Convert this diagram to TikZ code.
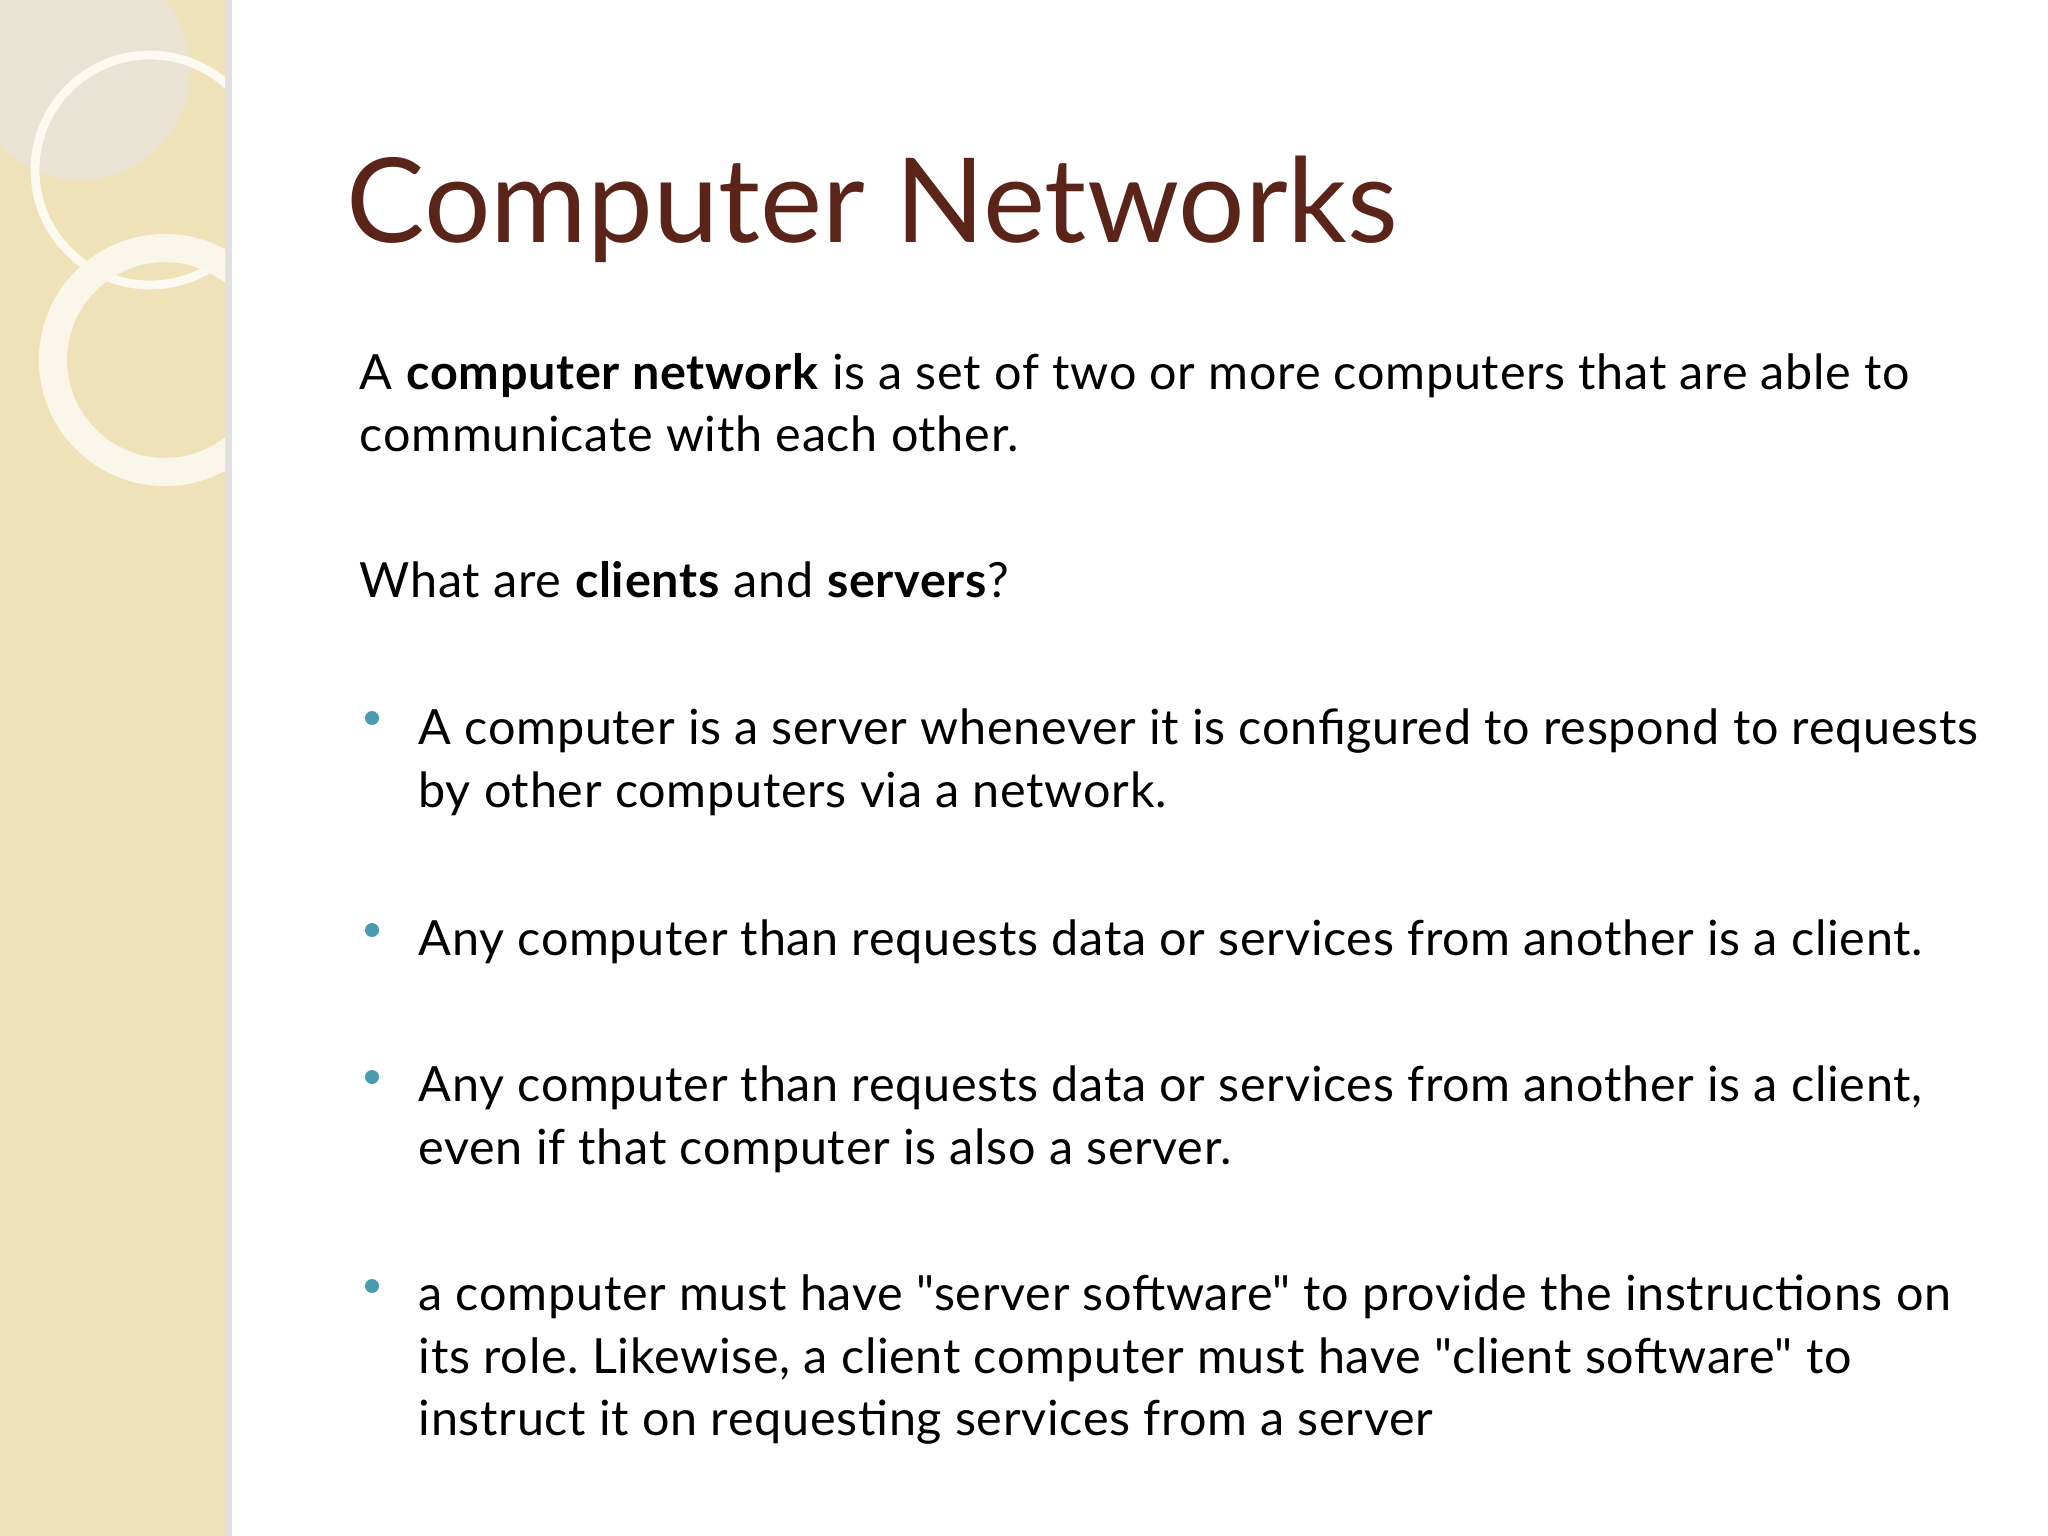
\documentclass[tikz,border=0pt]{standalone}
\usepackage{fontspec}
\setmainfont{Lato}[LetterSpace=1.5]
\definecolor{band}{HTML}{F0E2B8}
\definecolor{titlec}{HTML}{5A2418}
\definecolor{bul}{HTML}{4A9AB0}
\frenchspacing
\begin{document}
\begin{tikzpicture}[x=0.01cm,y=-0.01cm,
  txt/.style={anchor=base west,inner sep=0,font=\fontsize{13.8}{16}\selectfont},
  dot/.style={circle,fill=bul,inner sep=0,minimum size=0.14cm}]
\useasboundingbox (0,0) rectangle (2048,1536);
\fill[white] (0,0) rectangle (2048,1536);
\fill[band] (0,0) rectangle (225,1536);
\fill[black!12] (225,0) rectangle (232,1536);
\begin{scope}
\clip (0,0) rectangle (225,1536);
\fill[black!10,opacity=0.6] (80,70) circle (110);
\draw[white!80!band,line width=2.5pt] (150,170) circle (115);
\draw[white!70!band,line width=8pt] (165,360) circle (112);
\end{scope}
\node[anchor=base west,inner sep=0,text=titlec,font=\fontsize{33.4}{40}\selectfont\addfontfeature{LetterSpace=0}] (title) at (346,242) {Computer Networks};
\node[txt] (l1) at (359,389) {A \textbf{computer network} is a set of two or more computers that are able to};
\node[txt] (l2) at (359,451) {communicate with each other.};
\node[txt] (q) at (359,597) {What are \textbf{clients} and \textbf{servers}?};
\node[dot] (d1) at (372,718) {};
\node[txt] (b1a) at (418,744) {A computer is a server whenever it is configured to respond to requests};
\node[txt] (b1b) at (418,807) {by other computers via a network.};
\node[dot] (d2) at (372,930) {};
\node[txt] (b2) at (418,955) {Any computer than requests data or services from another is a client.};
\node[dot] (d3) at (372,1077) {};
\node[txt] (b3a) at (418,1101) {Any computer than requests data or services from another is a client,};
\node[txt] (b3b) at (418,1164) {even if that computer is also a server.};
\node[dot] (d4) at (372,1286) {};
\node[txt] (b4a) at (418,1310) {a computer must have \textquotedbl server software\textquotedbl{} to provide the instructions on};
\node[txt] (b4b) at (418,1373) {its role. Likewise, a client computer must have \textquotedbl client software\textquotedbl{} to};
\node[txt] (b4c) at (418,1435) {instruct it on requesting services from a server};
\end{tikzpicture}
\end{document}
